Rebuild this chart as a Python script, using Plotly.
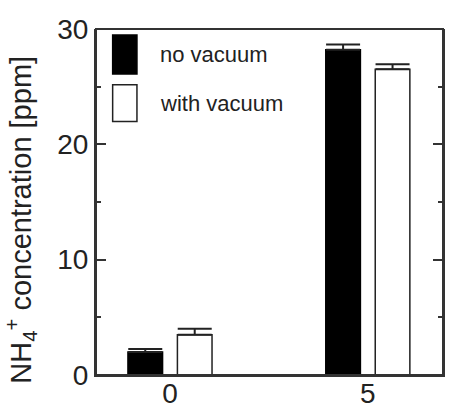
import plotly.graph_objects as go

categories = [0, 5]
no_vacuum = [2.0, 28.2]
no_vacuum_err = [0.25, 0.45]
with_vacuum = [3.5, 26.5]
with_vacuum_err = [0.5, 0.45]
y_tickvals = [0, 10, 20, 30]
y_ticktext = ["0", "10", "20", "30"]
x_ticktext = ["0", "5"]
legend_names = ["no vacuum", "with vacuum"]
y_title = "NH<sub>4</sub><sup>+</sup> concentration [ppm]"

font_family = "Liberation Sans, Arial, sans-serif"
ink = "#222222"
axis_col = "#333333"

fig = go.Figure()
fig.add_trace(go.Bar(
    x=categories, y=no_vacuum, name=legend_names[0],
    marker=dict(color="black", line=dict(color="black", width=1.5)),
    error_y=dict(type="data", array=no_vacuum_err, arrayminus=[0, 0], symmetric=False,
                 color=ink, thickness=2, width=17),
    showlegend=False,
))
fig.add_trace(go.Bar(
    x=categories, y=with_vacuum, name=legend_names[1],
    marker=dict(color="white", line=dict(color=ink, width=1.5)),
    error_y=dict(type="data", array=with_vacuum_err, arrayminus=[0, 0], symmetric=False,
                 color=ink, thickness=2, width=17),
    showlegend=False,
))

# Plot frame
fig.add_shape(type="rect", xref="paper", yref="paper", x0=0, x1=1, y0=0, y1=1,
              line=dict(color=axis_col, width=2), fillcolor="rgba(0,0,0,0)", layer="above")

# Legend drawn as large swatches (paper coordinates)
swatches = [("black", "black", 0.017, 0.13), ("white", ink, 0.161, 0.267)]
for (fill, line, top_off, bot_off), name in zip(swatches, legend_names):
    fig.add_shape(type="rect", xref="paper", yref="paper",
                  x0=0.048, x1=0.118, y0=1 - bot_off, y1=1 - top_off,
                  fillcolor=fill, line=dict(color=line, width=1.5))
    fig.add_annotation(xref="paper", yref="paper", x=0.18, y=1 - (top_off + bot_off) / 2,
                       text=name, showarrow=False, xanchor="left", yanchor="middle",
                       font=dict(family=font_family, size=22, color=ink))

# Y-axis title
fig.add_annotation(xref="paper", yref="paper", x=-0.215, y=0.45, text=y_title,
                   textangle=-90, showarrow=False, xanchor="center", yanchor="middle",
                   font=dict(family=font_family, size=29, color=ink))

fig.update_layout(
    width=449, height=409,
    margin=dict(l=96, r=6, t=29, b=34, autoexpand=False),
    plot_bgcolor="white", paper_bgcolor="white",
    barmode="group", bargap=0.5, bargroupgap=0.3,
    font=dict(family=font_family, color=ink),
)
fig.update_xaxes(
    range=[-1.87, 6.9], tickvals=categories, ticktext=x_ticktext,
    showline=True, linecolor=axis_col, linewidth=2,
    ticks="", showgrid=False, zeroline=False, automargin=False,
    ticklabelstandoff=-8,
    tickfont=dict(size=28, color=ink),
)
fig.update_yaxes(
    range=[0, 30], tickvals=y_tickvals, ticktext=y_ticktext,
    showline=True, linecolor=axis_col, linewidth=2, mirror="allticks",
    ticks="inside", ticklen=10, tickwidth=2, tickcolor=axis_col,
    minor=dict(dtick=5, ticks="inside", ticklen=5, tickwidth=2, tickcolor=axis_col),
    showgrid=False, zeroline=False, automargin=False,
    tickfont=dict(size=28, color=ink),
)

fig.write_html("out.html", config={"displayModeBar": False},
               post_script="document.body.style.margin='0';document.body.style.overflow='hidden';")
